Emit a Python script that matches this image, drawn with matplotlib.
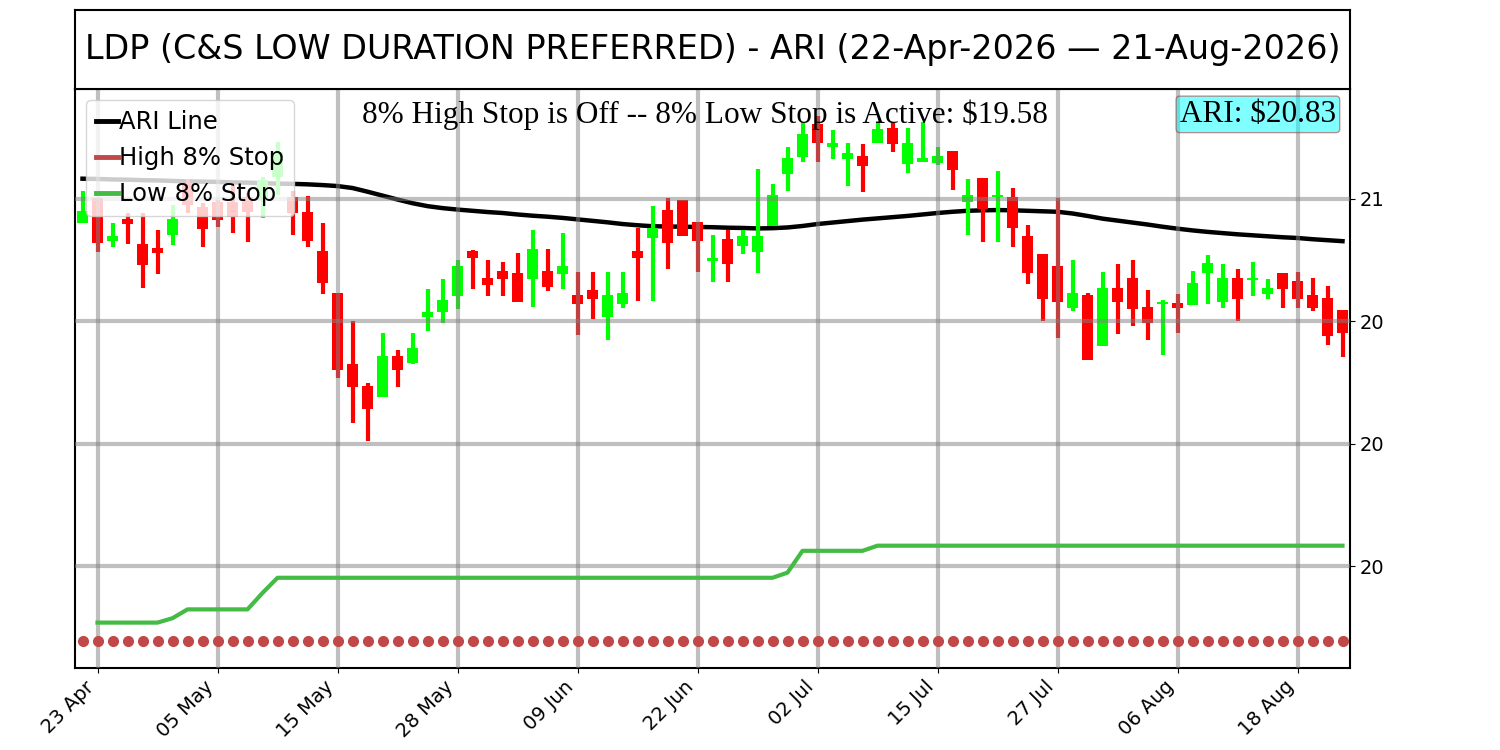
import numpy as np
import pandas as pd
from matplotlib import pyplot as plt
from matplotlib.lines import Line2D
from matplotlib.ticker import FormatStrFormatter

# trading days 22-Apr-2026 .. 21-Aug-2026 (US market holidays removed)
holidays = pd.to_datetime(['2026-05-25', '2026-06-19', '2026-07-03'])
dias = pd.bdate_range('2026-04-22', '2026-08-21')
dias = dias[~dias.isin(holidays)]

apertura = [20.899, 21.001, 20.826, 20.915, 20.813, 20.797, 20.851, 21.062, 20.966, 20.987,
            20.987, 21.007, 20.994, 21.089, 21.007, 20.946, 20.786, 20.613, 20.323, 20.235,
            20.191, 20.357, 20.330, 20.517, 20.538, 20.602, 20.786, 20.677, 20.705, 20.695,
            20.670, 20.705, 20.690, 20.606, 20.626, 20.517, 20.569, 20.787, 20.841, 20.953,
            20.994, 20.903, 20.746, 20.833, 20.807, 20.780, 20.888, 21.100, 21.168, 21.304,
            21.211, 21.160, 21.173, 21.228, 21.286, 21.139, 21.148, 21.146, 21.194, 20.987,
            21.082, 21.005, 21.005, 20.847, 20.773, 20.726, 20.552, 20.606, 20.399, 20.633,
            20.674, 20.556, 20.568, 20.575, 20.565, 20.697, 20.579, 20.674, 20.667, 20.609,
            20.695, 20.663, 20.606, 20.593, 20.545]
maximo = [21.031, 21.001, 20.899, 20.939, 20.939, 20.871, 20.973, 21.078, 20.980, 20.994,
          21.058, 21.021, 21.089, 21.229, 21.031, 21.010, 20.901, 20.613, 20.500, 20.246,
          20.452, 20.381, 20.452, 20.630, 20.671, 20.749, 20.790, 20.749, 20.742, 20.779,
          20.871, 20.794, 20.860, 20.701, 20.701, 20.701, 20.701, 20.881, 20.969, 21.001,
          20.994, 20.903, 20.851, 20.871, 20.871, 21.120, 21.059, 21.211, 21.311, 21.338,
          21.279, 21.225, 21.222, 21.317, 21.311, 21.290, 21.311, 21.209, 21.194, 21.079,
          21.082, 21.112, 21.044, 20.892, 20.773, 21.003, 20.749, 20.614, 20.701, 20.733,
          20.749, 20.626, 20.586, 20.610, 20.705, 20.769, 20.733, 20.711, 20.739, 20.670,
          20.695, 20.699, 20.674, 20.643, 20.545]
minimo = [20.899, 20.783, 20.803, 20.813, 20.633, 20.692, 20.810, 20.942, 20.803, 20.882,
          20.860, 20.824, 20.919, 21.014, 20.851, 20.803, 20.610, 20.266, 20.082, 20.011,
          20.191, 20.232, 20.323, 20.460, 20.493, 20.549, 20.629, 20.603, 20.602, 20.579,
          20.558, 20.622, 20.629, 20.443, 20.508, 20.422, 20.554, 20.581, 20.583, 20.712,
          20.848, 20.701, 20.660, 20.660, 20.772, 20.697, 20.888, 21.032, 21.150, 21.150,
          21.161, 21.052, 21.028, 21.228, 21.191, 21.103, 21.148, 21.137, 21.035, 20.851,
          20.824, 20.824, 20.803, 20.651, 20.501, 20.432, 20.542, 20.341, 20.399, 20.447,
          20.481, 20.422, 20.361, 20.452, 20.565, 20.569, 20.554, 20.501, 20.603, 20.590,
          20.554, 20.554, 20.542, 20.402, 20.354]
cierre = [20.949, 20.819, 20.847, 20.896, 20.728, 20.779, 20.915, 20.973, 20.875, 20.912,
          20.923, 20.946, 21.075, 21.191, 20.939, 20.828, 20.656, 20.300, 20.229, 20.139,
          20.357, 20.300, 20.388, 20.538, 20.586, 20.724, 20.758, 20.647, 20.670, 20.579,
          20.794, 20.640, 20.724, 20.568, 20.588, 20.606, 20.613, 20.758, 20.878, 20.819,
          20.848, 20.828, 20.756, 20.733, 20.847, 20.847, 21.014, 21.164, 21.263, 21.228,
          21.228, 21.187, 21.133, 21.284, 21.222, 21.225, 21.164, 21.173, 21.116, 21.014,
          20.957, 21.014, 20.878, 20.697, 20.588, 20.579, 20.615, 20.341, 20.633, 20.579,
          20.549, 20.490, 20.579, 20.552, 20.654, 20.735, 20.674, 20.588, 20.677, 20.636,
          20.629, 20.588, 20.552, 20.440, 20.450]

linea_ari = [21.081, 21.080, 21.078, 21.077, 21.075, 21.074, 21.072, 21.070, 21.069, 21.068,
             21.066, 21.065, 21.063, 21.061, 21.060, 21.058, 21.055, 21.051, 21.043, 21.028,
             21.012, 20.996, 20.981, 20.969, 20.961, 20.955, 20.950, 20.945, 20.941, 20.935,
             20.930, 20.926, 20.921, 20.915, 20.909, 20.903, 20.896, 20.891, 20.887, 20.886,
             20.885, 20.884, 20.883, 20.881, 20.880, 20.878, 20.879, 20.882, 20.888, 20.896,
             20.902, 20.908, 20.914, 20.919, 20.924, 20.929, 20.935, 20.941, 20.946, 20.950,
             20.952, 20.953, 20.952, 20.950, 20.948, 20.946, 20.939, 20.929, 20.918, 20.910,
             20.902, 20.894, 20.885, 20.877, 20.870, 20.864, 20.859, 20.854, 20.850, 20.846,
             20.842, 20.839, 20.834, 20.830, 20.826]

stop_bajo = [np.nan, 19.269, 19.269, 19.269, 19.269, 19.269, 19.287, 19.323, 19.323, 19.323,
             19.323, 19.323, 19.390] + [19.452]*34 + [19.473] + [19.562]*5 + [19.583]*32
stop_alto = [19.193]*len(dias)

x = np.arange(len(dias))
o = np.array(apertura); h = np.array(maximo); l = np.array(minimo); c = np.array(cierre)
colores = np.where(c >= o, '#00ff00', '#ff0000')

fig = plt.figure(figsize=(15, 7.5), dpi=100)
ax = fig.add_axes([0.05, 0.11, 0.85, 0.7707])
tax = fig.add_axes([0.05, 0.8807, 0.85, 0.1066])

ax.plot(x, linea_ari, color='black', lw=3.2, zorder=2)
ax.vlines(x, l, h, colors=colores, lw=3, zorder=2.2)
ax.bar(x, c - o, bottom=o, width=0.75, color=colores, zorder=2.3)
ax.plot(x, stop_bajo, color='#44bb44', lw=3, zorder=3)
ax.plot(x, stop_alto, 'o', color='#c14848', ms=7, zorder=3)

ax.set_xlim(-0.5, len(dias) - 0.5)
ticks = x[1::8]
ax.set_xticks(ticks)
ax.set_xticklabels([dias[i].strftime('%d %b') for i in ticks], rotation=45, ha='right', fontsize=14)
ax.set_yticks([19.5, 20.0, 20.5, 21.0])
ax.yaxis.set_major_formatter(FormatStrFormatter('%.0f'))
ax.yaxis.tick_right()
ax.tick_params(axis='y', labelsize=14)
ax.set_axisbelow(False)
ax.grid(True, color='gray', alpha=0.5, lw=3)
for s in ax.spines.values():
    s.set_linewidth(1.5)

ax.text(0.494, 0.982, '8%% High Stop is Off -- 8%% Low Stop is Active: $%.2f' % stop_bajo[-1],
        transform=ax.transAxes, ha='center', va='top', fontsize=22.5, family=['Liberation Serif'])
ax.text(0.989, 0.982, 'ARI: $%.2f' % linea_ari[-1], transform=ax.transAxes, ha='right', va='top',
        fontsize=22.5, family=['Liberation Serif'],
        bbox=dict(boxstyle='round,pad=0.12', facecolor='cyan', edgecolor='firebrick', alpha=0.5))

manejadores = [Line2D([], [], color='black', lw=3.5),
               Line2D([], [], color='#c14848', lw=3.5),
               Line2D([], [], color='#44bb44', lw=3.5)]
ax.legend(manejadores, ['ARI Line', 'High 8% Stop', 'Low 8% Stop'], loc='upper left',
          fontsize=17.5, handlelength=0.9, handletextpad=0.05, borderaxespad=0.45)

tax.set_xticks([]); tax.set_yticks([])
for s in tax.spines.values():
    s.set_linewidth(1.5)
tax.text(0.5, 0.5, 'LDP (C&S LOW DURATION PREFERRED) - ARI (%s \u2014 %s)'
         % (dias[0].strftime('%d-%b-%Y'), dias[-1].strftime('%d-%b-%Y')),
         ha='center', va='center', fontsize=24, transform=tax.transAxes)

plt.savefig('out.png')
